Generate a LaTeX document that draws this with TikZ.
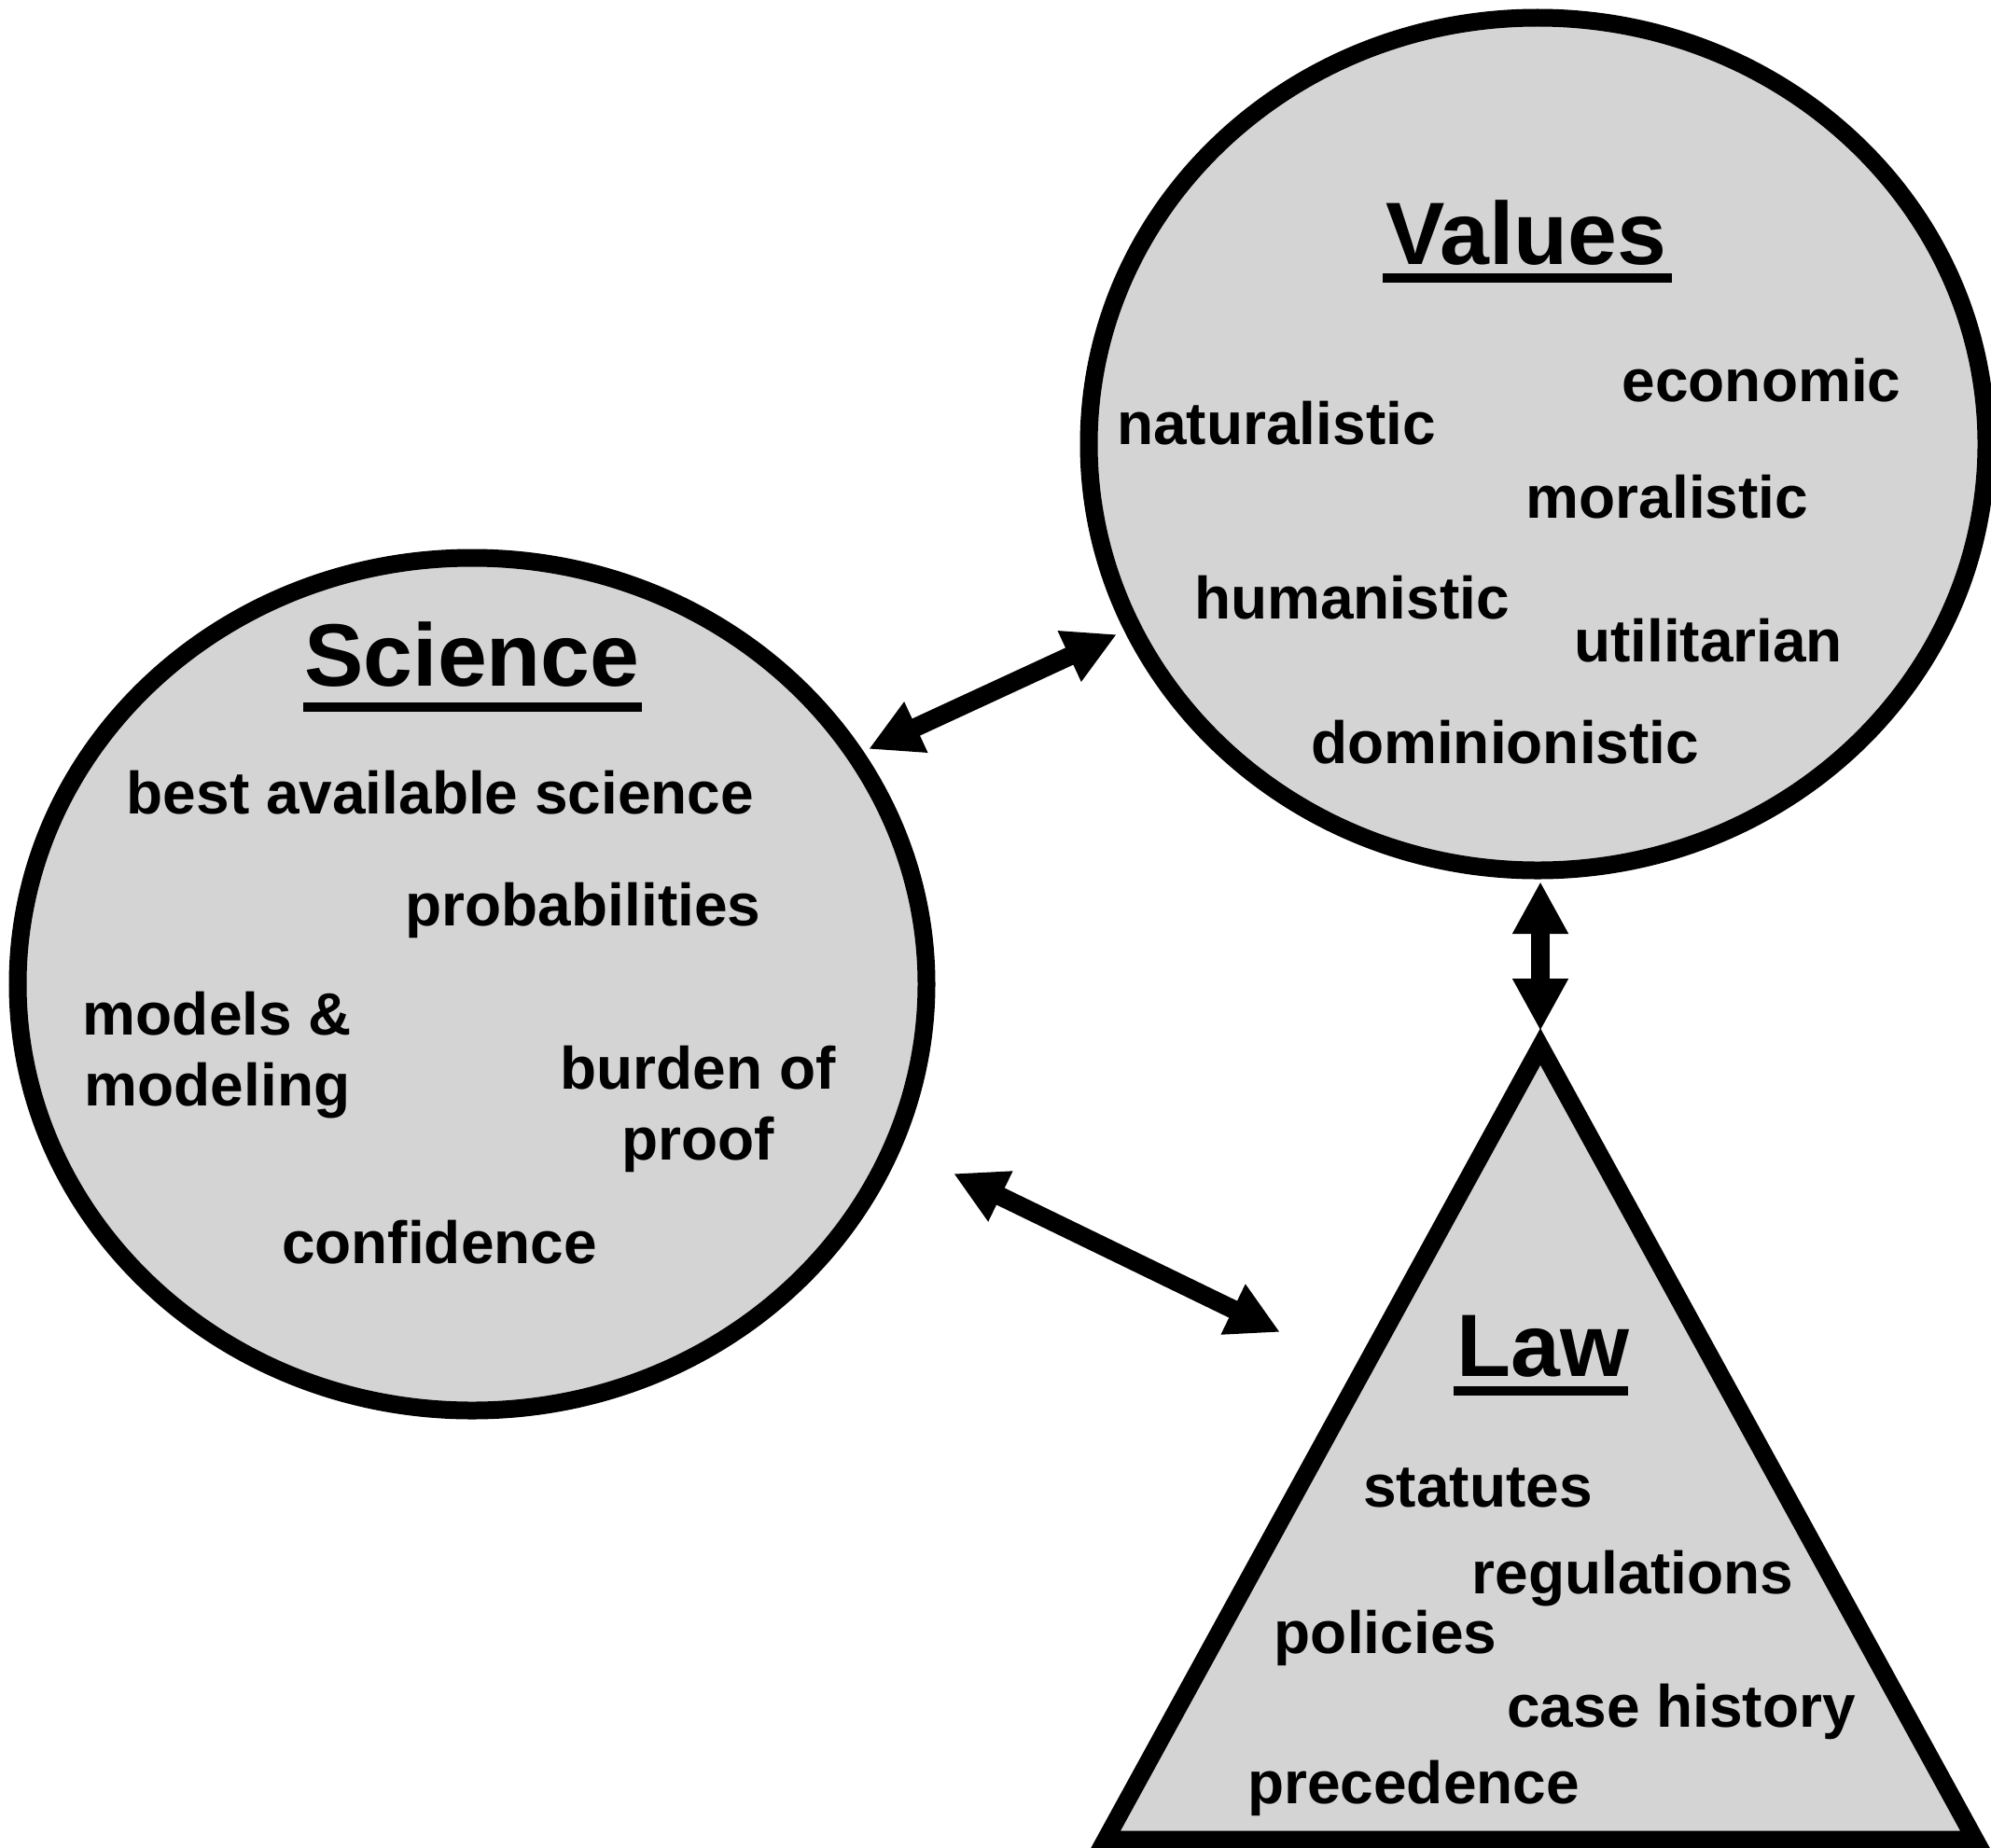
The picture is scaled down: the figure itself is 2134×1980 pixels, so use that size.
\documentclass[tikz,border=0pt]{standalone}
\usepackage{fontspec}
\setmainfont{Liberation Sans}
\usetikzlibrary{shapes.geometric,arrows.meta}
\definecolor{fillgray}{RGB}{212,212,212}
\tikzset{
  blob/.style={ellipse, draw=black, fill=fillgray, line width=9.5pt, inner sep=0pt},
  lawshape/.style={draw=black, fill=fillgray, line width=9.5pt, line join=miter},
  item/.style={anchor=base, inner sep=0pt, font=\bfseries\fontsize{32}{38}\selectfont, align=center},
  ttl/.style={anchor=base, inner sep=0pt, font=\bfseries\fontsize{47.5}{57}\selectfont},
  uline/.style={line width=5pt},
  dblarrow/.style={line width=10pt, {Triangle[length=28pt,width=28pt]}-{Triangle[length=28pt,width=28pt]}}
}
\begin{document}
\begin{tikzpicture}[x=0.5pt,y=-0.5pt]
\clip (0,0) rectangle (2134,1980);
\fill[white] (0,0) rectangle (2134,1980);
% shapes
\node[blob, minimum width=487pt, minimum height=457pt] (sci) at (506,1055) {};
\node[blob, minimum width=481pt, minimum height=457pt] (val) at (1648,476) {};
\coordinate (lawapex) at (1651,1122);
\coordinate (lawbr) at (2117,1972);
\coordinate (lawbl) at (1185,1972);
\draw[lawshape] (lawapex) -- (lawbr) -- (lawbl) -- cycle;
% titles
\node[ttl] (sciT) at (506,735) {Science};
\draw[uline] (325,758) -- (688,758);
\node[ttl] (valT) at (1636,283) {Values};
\draw[uline] (1482,298) -- (1792,298);
\node[ttl] (lawT) at (1654,1475) {Law};
\draw[uline] (1558,1491) -- (1745,1491);
% science items
\node[item] (s1) at (472,872) {best available science};
\node[item] (s2) at (625,992) {probabilities};
\node[item] (s3) at (233,1185) {models \&\\modeling};
\node[item] (s4) at (748,1243) {burden of\\proof};
\node[item] (s5) at (471,1354) {confidence};
% values items
\node[item] (v1) at (1368,476) {naturalistic};
\node[item] (v2) at (1888,430) {economic};
\node[item] (v3) at (1787,555) {moralistic};
\node[item] (v4) at (1449,663) {humanistic};
\node[item] (v5) at (1831,709) {utilitarian};
\node[item] (v6) at (1613,818) {dominionistic};
% law items
\node[item] (l1) at (1584,1615) {statutes};
\node[item] (l2) at (1750,1708) {regulations};
\node[item] (l3) at (1485,1772) {policies};
\node[item] (l4) at (1802,1851) {case history};
\node[item] (l5) at (1515,1933) {precedence};
% connectors
\coordinate (a1s) at (931,803);
\coordinate (a1e) at (1197,680);
\coordinate (a2s) at (1022,1258);
\coordinate (a2e) at (1372,1428);
\coordinate (a3s) at (1651,945);
\coordinate (a3e) at (1651,1105);
\draw[dblarrow] (a1s) -- (a1e);
\draw[dblarrow] (a2s) -- (a2e);
\draw[dblarrow] (a3s) -- (a3e);
\end{tikzpicture}
\end{document}
